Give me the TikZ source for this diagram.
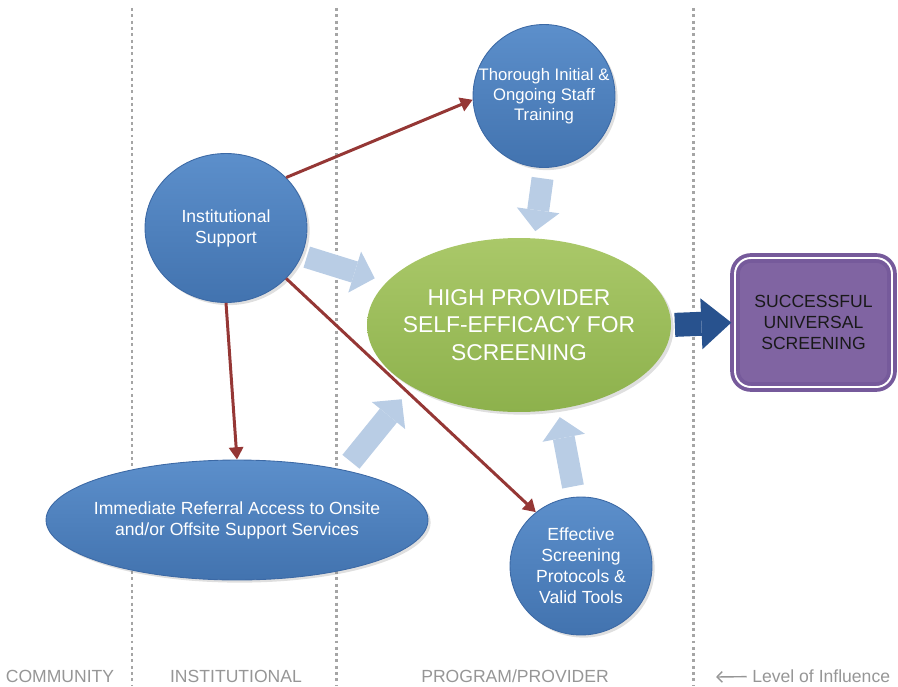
\documentclass[tikz,border=0pt]{standalone}
\usepackage{fontspec}
\setmainfont{Liberation Sans}
\usepackage{xcolor}
\usepackage{tikz}
\usetikzlibrary{arrows.meta,positioning,calc,shapes.geometric,shadows}

\definecolor{bluetop}{RGB}{92,143,203}
\definecolor{bluebot}{RGB}{66,115,175}
\definecolor{blueedge}{RGB}{60,105,165}
\definecolor{greentop}{RGB}{170,200,105}
\definecolor{greenbot}{RGB}{141,177,76}
\definecolor{goalpurple}{RGB}{128,100,162}
\definecolor{goalrim}{RGB}{118,90,155}
\definecolor{linkred}{RGB}{149,55,53}
\definecolor{feedblue}{RGB}{185,205,229}
\definecolor{pushblue}{RGB}{40,82,142}
\definecolor{guidegray}{RGB}{165,165,165}
\definecolor{zonegray}{RGB}{150,150,150}

\begin{document}
\begin{tikzpicture}[x=0.02cm, y=-0.02cm,
            factor/.style={ellipse, draw=blueedge, line width=0.5pt, top color=bluetop, bottom color=bluebot,
                 text=white, align=center, inner sep=0pt, inner xsep=-12pt, font=\fontsize{10}{12}\selectfont,
                 drop shadow={opacity=0.25, shadow xshift=1.5pt, shadow yshift=-1.5pt}},
            core/.style={ellipse, top color=greentop, bottom color=greenbot, text=white, align=center,
                 inner sep=0pt, inner xsep=-12pt, minimum width=6.08cm, minimum height=3.48cm,
                 font=\fontsize{13}{15.5}\selectfont,
                 drop shadow={opacity=0.25, shadow xshift=1.5pt, shadow yshift=-1.5pt}},
            goal/.style={rectangle, rounded corners=9pt, fill=goalpurple, draw=goalrim, line width=2.2pt,
                 double=white, double distance=1.1pt, minimum width=3.14cm, minimum height=2.58cm,
                 align=center, text=black!90, font=\fontsize{10}{12}\selectfont},
            zone/.style={anchor=base, inner sep=0pt, text=zonegray, font=\fontsize{10}{12}\selectfont},
            guide/.style={draw=guidegray, line width=1.7pt, dash pattern=on 1.7pt off 1.9pt},
            link/.style={draw=linkred, line width=1.7pt, -{Triangle[length=7pt, width=8pt]}},
            feed/.style={draw=feedblue, line width=0.44cm, -{Triangle[length=0.42cm, width=0.86cm, line width=0pt]}},
            push/.style={draw=pushblue, line width=0.48cm, -{Triangle[length=0.6cm, width=1.02cm, line width=0pt]}}
            ]
            \useasboundingbox (0,0) rectangle (898,686);

            % Level boundaries
            \foreach \gx in {132,336,693}
                \draw[guide] (\gx,8) -- (\gx,686);

            % Nodes with manual coordinates
            \node[factor, minimum width=3.24cm, minimum height=2.98cm] (inst) at (226,228) {Institutional\\Support};
            \node[factor, minimum width=2.84cm, minimum height=2.86cm, font=\fontsize{9.5}{11.5}\selectfont] (train) at (544,96) {Thorough Initial \&\\Ongoing Staff\\Training};
            \node[factor, minimum width=7.64cm, minimum height=2.4cm] (refer) at (237,520) {Immediate Referral Access to Onsite\\and/or Offsite Support Services};
            \node[factor, minimum width=2.84cm, minimum height=2.76cm] (tools) at (581,566) {Effective\\Screening\\Protocols \&\\Valid Tools};
            \node[core] (efficacy) at (519,325) {HIGH PROVIDER\\SELF-EFFICACY FOR\\SCREENING};
            \node[goal] (goal) at (813.5,322.5) {SUCCESSFUL\\UNIVERSAL\\SCREENING};

            % Level labels
            \node[zone] (community) at (60,682) {COMMUNITY};
            \node[zone] (institutional) at (236,682) {INSTITUTIONAL};
            \node[zone] (program) at (515,682) {PROGRAM/PROVIDER};
            \node[zone, anchor=base west] (influence) at (752,682) {Level of Influence};
            \coordinate (influencetail) at (716,677);

            % Arrows
            \draw[feed, shorten <=6pt, shorten >=4pt] (train.south) -- (efficacy.80);
            \draw[feed, shorten <=3pt, shorten >=7pt] (inst.340) -- (efficacy.162);
            \draw[feed, shorten <=6pt, shorten >=9pt] (refer.25) -- (efficacy.210);
            \draw[feed, shorten <=6pt, shorten >=4.5pt] (tools.95) -- (efficacy.295);
            \draw[push, shorten <=2pt, shorten >=1pt] (efficacy.east) -- (goal.west);
            \draw[link] (inst.40) -- (train.183);
            \draw[link] (inst.south) -- (refer.north);
            \draw[link] (inst.320) -- (tools.130);
            \draw[draw=zonegray, line width=0.8pt, -{Straight Barb[length=3pt, width=6pt]}, shorten <=3pt] (influence) -- (influencetail);
        \end{tikzpicture}
\end{document}
